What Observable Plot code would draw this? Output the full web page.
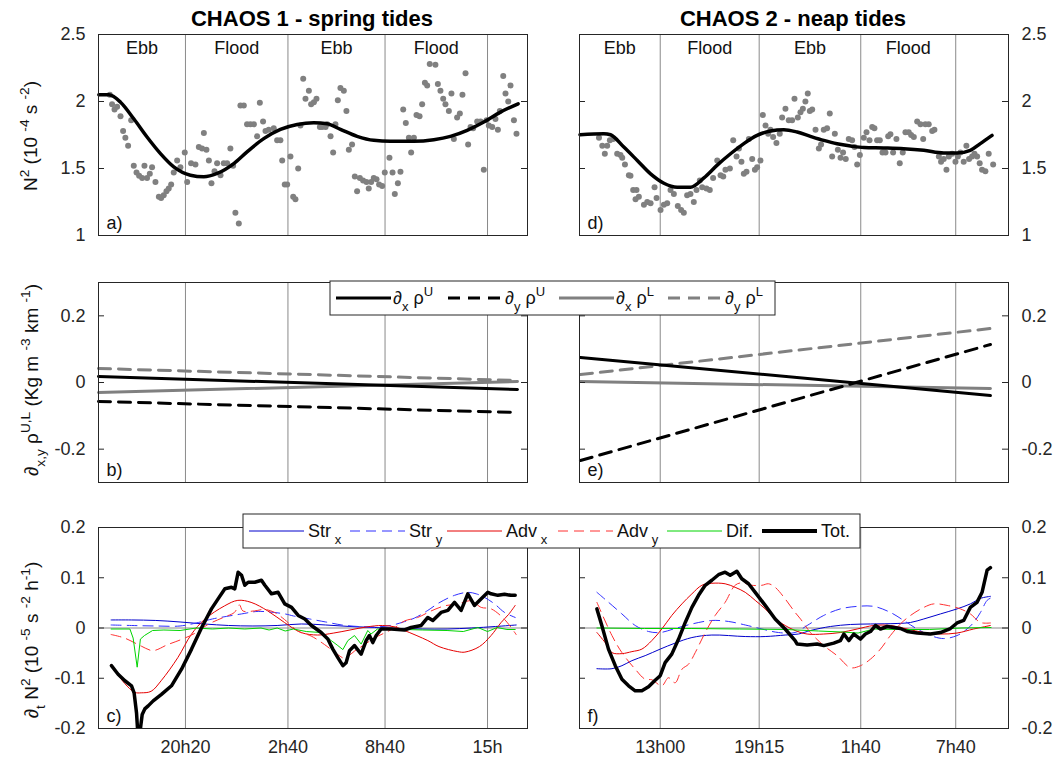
<!DOCTYPE html>
<html><head><meta charset="utf-8">
<script src="https://cdn.jsdelivr.net/npm/d3@7"></script>
<script src="https://cdn.jsdelivr.net/npm/@observablehq/plot@0.6"></script>
<style>
body{margin:0;background:#fff;}
#root{position:relative;width:1060px;height:759px;overflow:hidden;font-family:"Liberation Sans",Arial,Helvetica,sans-serif;}
#root svg{position:absolute;left:0;top:0;}
</style></head><body><div id="root"></div>
<script>
// ---------- time axes (hours since midnight of first day) ----------
const tideL = [20 + 20/60, 26 + 40/60, 32 + 40/60, 39];
const tideLabelsL = ["20h20", "2h40", "8h40", "15h"];
const tideR = [13, 19.25, 25 + 40/60, 31 + 40/60];
const tideLabelsR = ["13h00", "19h15", "1h40", "7h40"];
const phases = ["Ebb", "Flood", "Ebb", "Flood"];
const xDomL = [14.96, 41.47];
const xDomR = [7.9, 35.0];
const titles = ["CHAOS 1 - spring tides", "CHAOS 2 - neap tides"];

// ---------- panel a / d : N2 (1e-4 s-2) ----------
const n2PtsL = [[15.66,2.05],[15.80,1.98],[15.95,1.94],[16.11,1.96],[16.32,1.89],[16.48,1.78],[16.62,1.73],[16.79,1.67],[16.98,1.86],[17.14,1.52],[17.31,1.47],[17.47,1.445],[17.66,1.43],[17.80,1.52],[17.96,1.43],[18.13,1.46],[18.27,1.51],[18.48,1.40],[18.69,1.29],[18.83,1.28],[18.99,1.30],[19.16,1.33],[19.30,1.35],[19.45,1.38],[19.61,1.47],[19.82,1.56],[20.02,1.51],[20.29,1.62],[20.44,1.40],[20.68,1.54],[20.95,1.53],[21.16,1.66],[21.36,1.65],[21.47,1.765],[21.63,1.64],[21.78,1.56],[21.94,1.39],[22.13,1.48],[22.29,1.54],[22.50,1.45],[22.70,1.54],[22.91,1.54],[23.11,1.65],[23.28,1.52],[23.42,1.17],[23.63,1.09],[23.73,1.97],[23.94,1.97],[24.14,1.83],[24.35,1.83],[24.56,1.83],[24.76,1.74],[24.93,1.99],[25.13,1.85],[25.28,1.78],[25.48,1.79],[25.79,1.80],[26.0,1.71],[26.2,1.71],[26.31,1.56],[26.47,1.38],[26.62,1.38],[26.82,1.59],[26.99,1.29],[27.13,1.27],[27.30,1.50],[27.44,1.82],[27.61,2.17],[27.75,2.02],[27.96,2.08],[28.10,1.98],[28.27,1.995],[28.43,2.02],[28.64,1.81],[28.78,1.81],[28.99,1.81],[29.09,1.83],[29.30,1.74],[29.46,1.62],[29.60,1.83],[29.75,2.01],[29.91,2.10],[30.12,2.08],[30.28,1.93],[30.43,1.64],[30.63,1.68],[30.80,1.44],[30.94,1.33],[31.11,1.43],[31.31,1.41],[31.52,1.40],[31.66,1.35],[31.81,1.40],[31.97,1.43],[32.14,1.42],[32.30,1.38],[32.49,1.37],[32.65,1.47],[32.94,1.58],[33.13,1.47],[33.27,1.31],[33.46,1.39],[33.62,1.475],[33.79,1.94],[33.95,1.84],[34.14,1.73],[34.28,1.62],[34.45,1.73],[34.61,1.90],[34.80,1.89],[34.96,1.98],[35.13,2.14],[35.27,2.12],[35.43,2.28],[35.78,2.275],[35.93,2.13],[36.09,2.08],[36.26,2.02],[36.40,1.98],[36.61,1.93],[36.77,2.06],[36.92,1.72],[37.12,1.88],[37.29,1.91],[37.45,2.05],[37.64,2.21],[37.80,1.68],[37.95,1.81],[38.11,1.80],[38.36,1.85],[38.57,1.85],[38.77,1.49],[38.94,1.86],[39.08,1.82],[39.29,1.81],[39.49,1.87],[39.64,1.79],[39.76,1.93],[39.97,2.19],[40.11,2.06],[40.28,2.00],[40.42,2.12],[40.63,1.86],[40.79,1.76]];
const n2FitL = [[14.98,2.05],[15.6,2.05],[16.32,1.995],[17.14,1.871],[17.96,1.735],[18.79,1.611],[19.61,1.512],[20.64,1.45],[21.47,1.438],[22.29,1.463],[23.32,1.537],[24.14,1.624],[25.17,1.723],[26.2,1.792],[27.24,1.829],[28.26,1.842],[29.09,1.834],[29.91,1.792],[30.94,1.74],[31.97,1.71],[33.0,1.703],[34.45,1.703],[35.68,1.715],[36.71,1.74],[37.74,1.785],[38.77,1.847],[39.8,1.921],[40.89,1.983]];
const n2PtsR = [[9.13,1.73],[9.34,1.67],[9.50,1.61],[9.65,1.67],[9.82,1.71],[10.03,1.72],[10.28,1.61],[10.49,1.60],[10.60,1.58],[10.77,1.53],[11.02,1.45],[11.12,1.445],[11.29,1.34],[11.50,1.34],[11.44,1.27],[11.65,1.29],[11.97,1.23],[12.18,1.25],[12.39,1.24],[12.64,1.36],[12.77,1.28],[13.02,1.19],[13.23,1.23],[13.44,1.24],[13.65,1.34],[13.86,1.31],[14.11,1.22],[14.32,1.19],[14.49,1.17],[14.70,1.30],[14.91,1.31],[15.12,1.25],[15.29,1.34],[15.50,1.41],[15.65,1.36],[15.92,1.35],[16.13,1.34],[16.34,1.43],[16.60,1.56],[16.81,1.45],[16.98,1.44],[17.12,1.49],[17.40,1.50],[17.61,1.71],[17.82,1.59],[17.97,1.65],[18.13,1.55],[18.28,1.46],[18.45,1.475],[18.60,1.72],[18.81,1.57],[18.98,1.49],[19.12,1.51],[19.33,1.56],[19.48,1.90],[19.65,1.82],[19.82,1.76],[19.96,1.79],[20.13,1.735],[20.34,1.69],[20.55,1.76],[20.70,1.88],[20.91,1.945],[21.12,1.86],[21.33,1.86],[21.48,2.02],[21.69,1.88],[21.86,1.92],[22.01,1.945],[22.17,2.00],[22.32,2.06],[22.45,1.93],[22.60,1.94],[22.81,1.79],[23.02,1.65],[23.16,1.68],[23.33,1.79],[23.54,1.80],[23.71,1.91],[23.86,1.59],[24.03,1.76],[24.22,1.64],[24.39,1.58],[24.55,1.62],[24.72,1.57],[24.91,1.72],[25.12,1.71],[25.27,1.66],[25.44,1.53],[25.61,1.60],[25.86,1.73],[26.03,1.77],[26.22,1.71],[26.39,1.81],[26.53,1.80],[26.70,1.71],[26.87,1.71],[27.04,1.62],[27.23,1.62],[27.40,1.74],[27.54,1.755],[27.71,1.62],[27.92,1.72],[28.13,1.54],[28.32,1.62],[28.49,1.77],[28.70,1.77],[28.85,1.75],[29.02,1.735],[29.23,1.85],[29.44,1.83],[29.61,1.72],[29.75,1.83],[29.96,1.83],[30.18,1.78],[30.32,1.79],[30.60,1.59],[30.74,1.55],[30.91,1.57],[31.08,1.49],[31.23,1.59],[31.44,1.61],[31.65,1.55],[31.80,1.59],[31.96,1.62],[32.17,1.55],[32.34,1.67],[32.51,1.57],[32.70,1.59],[32.85,1.61],[33.02,1.59],[33.18,1.54],[33.33,1.49],[33.54,1.48],[33.75,1.61],[34.03,1.53]];
const n2FitR = [[7.93,1.752],[9.44,1.76],[9.86,1.752],[10.70,1.66],[11.55,1.56],[12.39,1.46],[13.23,1.39],[14.07,1.36],[14.91,1.36],[15.76,1.43],[16.60,1.525],[17.44,1.61],[18.28,1.686],[19.12,1.747],[19.96,1.78],[20.81,1.79],[21.65,1.772],[22.49,1.74],[23.33,1.71],[24.17,1.685],[25.02,1.668],[25.86,1.656],[27.12,1.653],[28.38,1.648],[29.65,1.636],[30.91,1.616],[31.75,1.616],[32.59,1.636],[33.22,1.686],[33.96,1.747]];
const n2Ticks = [1, 1.5, 2, 2.5];

// ---------- panel b / e : density gradients (kg m-3 km-1) ----------
const dxUL = [[14.96,0.018],[40.85,-0.021]];
const dyUL = [[14.96,-0.057],[40.85,-0.090]];
const dxLL = [[14.96,-0.030],[40.85,0.003]];
const dyLL = [[14.96,0.042],[40.85,0.006]];
const dxUR = [[7.96,0.075],[33.86,-0.039]];
const dyUR = [[7.96,-0.234],[33.86,0.114]];
const dxLR = [[7.96,0.003],[33.86,-0.018]];
const dyLR = [[7.96,0.024],[33.86,0.162]];
const gradTicks = [-0.2, 0, 0.2];

// ---------- panel c / f : dN2/dt terms (1e-5 s-2 h-1) ----------
const strxL = [[15.74,0.016],[17,0.016],[18.5,0.015],[20,0.012],[21.5,0.008],[23,0.005],[24.5,0.004],[26,0.005],[27.5,0.008],[29,0.006],[30.5,0.003],[32,0.001],[33.5,-0.001],[35,-0.002],[36.5,-0.002],[38,0],[39.5,0.003],[40.77,0.006]];
const stryL = [[15.74,0.006],[17,0.005],[18.5,0.004],[20,0.004],[21,0.01],[22,0.018],[22.5,0.021],[23.8,0.028],[24.83,0.033],[26.48,0.028],[27,0.024],[28,0.018],[29,0.012],[30,0.006],[31,0.003],[32,0.002],[33,0.005],[33.8,0.012],[34.5,0.02],[35.31,0.035],[36,0.05],[36.96,0.065],[37.78,0.071],[38.3,0.068],[38.81,0.061],[39.43,0.048],[40.05,0.031],[40.71,0.021]];
const advxL = [[15.74,-0.073],[16.57,-0.11],[17.2,-0.128],[17.6,-0.129],[18.21,-0.126],[18.83,-0.105],[19.86,-0.059],[20.69,-0.013],[21.51,0.017],[22.75,0.044],[23.57,0.055],[24.39,0.051],[25.42,0.034],[26.45,0.011],[27.48,-0.009],[28.5,-0.014],[29.5,-0.01],[30.5,-0.004],[31.5,0.002],[32.5,0.005],[33.3,0.002],[33.87,-0.005],[35.31,-0.025],[36,-0.037],[37.16,-0.047],[37.6,-0.048],[38.5,-0.037],[39.22,-0.015],[39.84,0.011],[40.3,0.027],[40.71,0.045]];
const advyL = [[15.74,-0.013],[16.57,-0.02],[17.6,-0.036],[18.32,-0.045],[19.24,-0.033],[20.07,-0.023],[20.89,-0.011],[21.72,0.007],[22.75,0.022],[23.36,0.031],[23.67,0.046],[23.88,0.034],[24.6,0.034],[25.22,0.037],[25.84,0.031],[26.45,0.017],[27.28,-0.006],[28.1,-0.016],[28.93,-0.033],[29.75,-0.053],[30.16,-0.06],[30.78,-0.046],[31.4,-0.033],[32.0,-0.02],[32.63,-0.01],[33.25,0],[33.87,0.014],[34.69,0.021],[35.52,0.034],[36.34,0.044],[37.17,0.048],[37.99,0.054],[38.61,0.041],[39.23,0.038],[40.05,0.017],[40.77,-0.013]];
const difL = [[15.74,-0.002],[16.9,-0.002],[17.1,-0.02],[17.35,-0.078],[17.55,-0.022],[17.8,-0.015],[18.3,-0.005],[19,-0.004],[20,-0.005],[21,0],[22,-0.002],[23,0],[24,-0.002],[25,0],[25.5,-0.004],[26,0],[26.5,-0.006],[27,-0.002],[27.8,-0.007],[28.7,-0.009],[29.34,-0.025],[29.75,-0.035],[30.06,-0.043],[30.37,-0.025],[30.78,-0.015],[31.19,-0.032],[31.6,-0.005],[31.8,-0.012],[32.2,-0.002],[33,-0.003],[34,-0.003],[35,-0.004],[36.5,-0.005],[37.5,-0.007],[38.4,0.001],[39,-0.007],[39.6,0.001],[40.2,-0.003],[40.71,-0.003]];
const totL = [[15.76,-0.075],[16.17,-0.092],[16.59,-0.105],[17.0,-0.115],[17.16,-0.129],[17.31,-0.169],[17.41,-0.22],[17.5,-0.22],[17.57,-0.195],[17.66,-0.172],[17.82,-0.161],[18.03,-0.155],[18.34,-0.145],[18.85,-0.132],[19.47,-0.115],[20.09,-0.082],[20.71,-0.042],[21.32,0],[21.94,0.038],[22.35,0.058],[22.77,0.078],[23.18,0.081],[23.38,0.078],[23.59,0.111],[23.8,0.105],[24.0,0.085],[24.21,0.091],[24.62,0.091],[25.03,0.095],[25.24,0.085],[25.65,0.068],[26.06,0.071],[26.47,0.048],[26.89,0.041],[27.3,0.025],[27.71,0.018],[28.12,0.005],[28.72,-0.009],[29.13,-0.022],[29.44,-0.042],[29.75,-0.059],[30.06,-0.075],[30.26,-0.069],[30.47,-0.045],[30.78,-0.035],[31.19,-0.052],[31.5,-0.025],[31.7,-0.015],[31.91,-0.029],[32.12,-0.015],[32.43,-0.002],[33.04,-0.002],[33.87,-0.004],[34.28,0.001],[34.9,0.005],[35.31,0.021],[35.62,0.015],[36.13,0.031],[36.55,0.035],[36.96,0.051],[37.37,0.035],[37.78,0.068],[38.19,0.045],[38.61,0.058],[39.02,0.071],[39.22,0.068],[39.64,0.065],[40.05,0.067],[40.46,0.065],[40.71,0.065]];

const strxR = [[9.0,-0.081],[9.95,-0.081],[10.58,-0.075],[11.21,-0.065],[12.05,-0.055],[13.0,-0.042],[13.94,-0.03],[15.0,-0.019],[16.26,-0.014],[18.37,-0.017],[19.63,-0.017],[20.89,-0.014],[21.73,-0.012],[22.49,-0.005],[23.75,0.003],[25.02,0.007],[26.28,0.008],[27.96,0.009],[28.81,0.011],[29.65,0.018],[30.7,0.028],[31.75,0.038],[32.59,0.048],[33.23,0.059],[33.86,0.063]];
const stryR = [[9.0,0.071],[9.74,0.051],[10.58,0.028],[11.42,0.005],[12.26,-0.007],[13.0,-0.009],[13.94,-0.001],[15.0,0.008],[16.26,0.015],[17.31,0.013],[18.37,0.006],[19.42,-0.002],[20.47,-0.009],[21.52,-0.009],[22.28,0.005],[23.33,0.025],[24.38,0.038],[25.44,0.043],[26.49,0.043],[27.54,0.031],[28.38,0.015],[29.23,-0.002],[30.07,-0.015],[30.91,-0.021],[31.75,-0.015],[32.38,-0.002],[32.8,0.011],[33.23,0.031],[33.65,0.055],[33.96,0.061]];
const advxR = [[9.0,-0.009],[9.52,-0.029],[9.95,-0.049],[10.58,-0.051],[11.21,-0.047],[11.84,-0.042],[12.47,-0.025],[13.1,-0.002],[13.73,0.025],[14.37,0.048],[15.0,0.068],[15.63,0.085],[16.26,0.089],[17.1,0.088],[17.73,0.081],[18.37,0.071],[19.0,0.055],[19.63,0.038],[20.26,0.018],[20.89,0.005],[21.52,-0.005],[22.28,-0.012],[23.33,-0.012],[24.38,-0.009],[25.44,-0.002],[26.49,0.005],[27.54,0.005],[28.6,-0.002],[29.65,-0.009],[30.7,-0.012],[31.75,-0.01],[32.8,-0.002],[33.86,0.005]];
const advyR = [[9.0,0.051],[9.95,-0.015],[10.58,-0.049],[11.42,-0.082],[12.05,-0.102],[12.47,-0.103],[13.1,-0.115],[13.52,-0.099],[13.94,-0.109],[14.37,-0.082],[14.79,-0.072],[15.21,-0.049],[15.84,-0.009],[16.47,0.025],[17.1,0.051],[17.73,0.085],[18.15,0.09],[18.79,0.085],[19.42,0.085],[19.84,0.088],[20.26,0.081],[20.89,0.058],[21.52,0.031],[21.86,0.018],[22.49,-0.009],[23.33,-0.035],[24.17,-0.055],[25.02,-0.079],[25.65,-0.075],[26.28,-0.062],[26.91,-0.042],[27.54,-0.015],[28.17,0.008],[28.81,0.025],[29.65,0.041],[30.28,0.048],[31.12,0.045],[31.96,0.038],[32.59,0.028],[33.23,0.011],[33.86,0.01]];
const difR = [[9.0,0],[12,-0.001],[15,-0.001],[18,-0.002],[21,-0.003],[23,-0.006],[24.5,-0.008],[25.5,-0.01],[26.5,-0.002],[28,-0.003],[30,-0.003],[32,0],[33.9,0.001]];
const totR = [[9.0,0.038],[9.31,0.005],[9.73,-0.042],[10.16,-0.075],[10.58,-0.102],[11.0,-0.115],[11.42,-0.125],[11.84,-0.125],[12.26,-0.117],[12.68,-0.104],[13.0,-0.095],[13.31,-0.069],[13.73,-0.052],[14.16,-0.022],[14.58,0.011],[15.0,0.041],[15.42,0.065],[15.84,0.085],[16.26,0.095],[16.68,0.106],[17.1,0.111],[17.42,0.105],[17.84,0.113],[18.15,0.098],[18.58,0.088],[19.0,0.071],[19.63,0.045],[20.26,0.018],[20.89,-0.002],[21.52,-0.025],[21.65,-0.032],[22.28,-0.034],[22.91,-0.032],[23.33,-0.035],[23.96,-0.03],[24.38,-0.025],[24.6,-0.012],[24.91,-0.025],[25.23,-0.012],[25.65,-0.022],[25.96,-0.012],[26.28,-0.007],[26.6,0.005],[26.91,-0.002],[27.33,0.003],[27.75,0.001],[28.17,-0.001],[28.6,-0.007],[29.23,-0.01],[30.07,-0.012],[30.7,-0.009],[31.33,-0.001],[31.75,0.01],[32.17,0.015],[32.59,0.041],[33.01,0.051],[33.33,0.071],[33.65,0.115],[33.86,0.12]];
const rateTicks = [-0.2, -0.1, 0, 0.1, 0.2];

// ---------- rendering ----------
const W = 1060, H = 759;
const FONT = '"Liberation Sans", Arial, Helvetica, sans-serif';
const INK = "#262626";
const GRID = "#8a8a8a";
const root = document.getElementById("root");
const X = d => d[0], Y = d => d[1];

function panel(o) {
  const fw = o.right - o.left;
  const labelMap = new Map(o.tide.map((t, i) => [t, o.tideLabels[i]]));
  const bounds = [o.xDom[0], ...o.tide];
  const phaseData = phases.map((p, i) => ({p, x: (bounds[i] + bounds[i + 1]) / 2}));
  const marks = [
    Plot.ruleX(o.tide, {x: d => d, stroke: GRID, strokeWidth: 1}),
    o.zero ? Plot.ruleY([0], {y: d => d, stroke: GRID, strokeWidth: 1}) : null,
    ...o.marks,
    Plot.frame({stroke: INK, strokeWidth: 1}),
    Plot.ruleY(o.yTicks, {y: d => d, stroke: INK, insetRight: fw - 6}),
    Plot.ruleY(o.yTicks, {y: d => d, stroke: INK, insetLeft: fw - 6}),
    Plot.axisY(o.yTicks, {anchor: o.side, tickSize: 0, tickPadding: 13, tickFormat: d => String(d), fontSize: 18, fill: INK, label: null}),
    o.phases ? Plot.text(phaseData, {x: "x", text: "p", frameAnchor: "top", lineAnchor: "middle", dy: 14, fontSize: 18, fill: "#111"}) : null,
    Plot.text([o.letter], {text: d => d, frameAnchor: "bottom-left", lineAnchor: "middle", dx: 8, dy: -12, textAnchor: "start", fontSize: 18, fill: "#111"}),
    o.xLabels ? Plot.axisX(o.tide, {anchor: "bottom", tickSize: 0, tickPadding: 12, tickFormat: d => labelMap.get(d), fontSize: 18, fill: INK, label: null}) : null
  ].filter(Boolean);
  const svg = Plot.plot({
    width: W, height: H,
    marginLeft: o.left, marginRight: W - o.right, marginTop: o.top, marginBottom: H - o.bottom,
    x: {domain: o.xDom, axis: null},
    y: {domain: o.yDom, axis: null},
    style: {background: "transparent", fontFamily: FONT, fontSize: "18px", color: INK, overflow: "visible"},
    marks
  });
  root.appendChild(svg);
}

const colL = {left: 98, right: 527, xDom: xDomL, tide: tideL, tideLabels: tideLabelsL, side: "left"};
const colR = {left: 579, right: 1008, xDom: xDomR, tide: tideR, tideLabels: tideLabelsR, side: "right"};
const rowA = {top: 34, bottom: 235, yDom: [1, 2.5], yTicks: n2Ticks, phases: true};
const rowB = {top: 282, bottom: 482, yDom: [-0.3, 0.3], yTicks: gradTicks};
const rowC = {top: 527, bottom: 728, yDom: [-0.2, 0.2], yTicks: rateTicks, zero: true, xLabels: true};

function n2Marks(pts, fit) {
  return [
    Plot.dot(pts, {x: X, y: Y, r: 3, fill: "#808080", stroke: "none"}),
    Plot.line(fit, {x: X, y: Y, stroke: "#000", strokeWidth: 3.5, curve: "monotone-x"})
  ];
}
function gradMarks(dxU, dyU, dxL, dyL) {
  return [
    Plot.line(dyL, {x: X, y: Y, stroke: "#808080", strokeWidth: 3, strokeDasharray: "12,8"}),
    Plot.line(dxL, {x: X, y: Y, stroke: "#808080", strokeWidth: 3}),
    Plot.line(dyU, {x: X, y: Y, stroke: "#000", strokeWidth: 3, strokeDasharray: "12,8"}),
    Plot.line(dxU, {x: X, y: Y, stroke: "#000", strokeWidth: 3})
  ];
}
const COL = {strx: "#0000cc", stry: "#2f2fff", advx: "#e60000", advy: "#ff3030", dif: "#00d400", tot: "#000"};
function rateMarks(strx, stry, advx, advy, dif, tot) {
  const c = "catmull-rom";
  return [
    Plot.line(strx, {x: X, y: Y, stroke: COL.strx, strokeWidth: 1, curve: c, clip: true}),
    Plot.line(stry, {x: X, y: Y, stroke: COL.stry, strokeWidth: 1, strokeDasharray: "10,6", curve: c, clip: true}),
    Plot.line(advx, {x: X, y: Y, stroke: COL.advx, strokeWidth: 1, curve: c, clip: true}),
    Plot.line(advy, {x: X, y: Y, stroke: COL.advy, strokeWidth: 1, strokeDasharray: "10,6", curve: c, clip: true}),
    Plot.line(dif, {x: X, y: Y, stroke: COL.dif, strokeWidth: 1, clip: true}),
    Plot.line(tot, {x: X, y: Y, stroke: COL.tot, strokeWidth: 3.5, clip: true})
  ];
}

panel({...colL, ...rowA, letter: "a)", marks: n2Marks(n2PtsL, n2FitL)});
panel({...colR, ...rowA, letter: "d)", marks: n2Marks(n2PtsR, n2FitR)});
panel({...colL, ...rowB, letter: "b)", marks: gradMarks(dxUL, dyUL, dxLL, dyLL)});
panel({...colR, ...rowB, letter: "e)", marks: gradMarks(dxUR, dyUR, dxLR, dyLR)});
panel({...colL, ...rowC, letter: "c)", marks: rateMarks(strxL, stryL, advxL, advyL, difL, totL)});
panel({...colR, ...rowC, letter: "f)", marks: rateMarks(strxR, stryR, advxR, advyR, difR, totR)});

// ---------- overlay: titles, axis titles, legends ----------
const NS = "http://www.w3.org/2000/svg";
const ov = document.createElementNS(NS, "svg");
ov.setAttribute("width", W); ov.setAttribute("height", H);
ov.setAttribute("font-family", FONT);
ov.style.whiteSpace = "pre";
root.appendChild(ov);
function el(tag, attrs, parent = ov) {
  const e = document.createElementNS(NS, tag);
  for (const k in attrs) e.setAttribute(k, attrs[k]);
  parent.appendChild(e);
  return e;
}
function rich(x, y, parts, size, opts = {}) {
  const t = el("text", {x: 0, y: 0, "font-size": size, fill: opts.fill || "#111", "text-anchor": opts.anchor || "start",
    transform: `translate(${x},${y})` + (opts.rotate ? ` rotate(${opts.rotate})` : "")});
  let cur = 0;
  for (const [s, lvl] of parts) {
    const target = lvl === 1 ? -0.42 * size : lvl === -1 ? 0.38 * size : 0;
    const ts = el("tspan", {dy: (target - cur).toFixed(2)}, t);
    cur = target;
    if (lvl) ts.setAttribute("font-size", (size * 0.72).toFixed(1));
    ts.textContent = s;
  }
  return t;
}

// titles
el("text", {x: 312, y: 26, "text-anchor": "middle", "font-size": 22, "font-weight": "bold", fill: "#000"}).textContent = titles[0];
el("text", {x: 793, y: 26, "text-anchor": "middle", "font-size": 22, "font-weight": "bold", fill: "#000"}).textContent = titles[1];

// y-axis titles
rich(37, 136, [["N", 0], ["2", 1], [" (10 ", 0], ["-4", 1], [" s ", 0], ["-2", 1], [")", 0]], 19, {anchor: "middle", rotate: -90});
rich(38, 380, [["\u2202", 0], ["x,y", -1], [" \u03C1", 0], ["U,L", 1], [" (Kg m ", 0], ["-3", 1], [" km ", 0], ["-1", 1], [")", 0]], 19, {anchor: "middle", rotate: -90});
rich(38, 640, [["\u2202", 0], ["t", -1], [" N", 0], ["2", 1], [" (10 ", 0], ["-5", 1], [" s ", 0], ["-2", 1], [" h", 0], ["-1", 1], [")", 0]], 19, {anchor: "middle", rotate: -90});

// legend b
el("rect", {x: 330, y: 281, width: 445, height: 34, fill: "#fff", stroke: INK, "stroke-width": 1});
const legB = [
  {x: 336, stroke: "#000", dash: null, sub: "x", sup: "U"},
  {x: 448, stroke: "#000", dash: "12,8", sub: "y", sup: "U"},
  {x: 559, stroke: "#808080", dash: null, sub: "x", sup: "L"},
  {x: 668, stroke: "#808080", dash: "12,8", sub: "y", sup: "L"}
];
for (const it of legB) {
  const l = el("line", {x1: it.x, x2: it.x + 55, y1: 298, y2: 298, stroke: it.stroke, "stroke-width": 3});
  if (it.dash) l.setAttribute("stroke-dasharray", it.dash);
  rich(it.x + 57, 304, [["\u2202", 0], [it.sub, -1], [" \u03C1", 0], [it.sup, 1]], 18);
}

// legend c
el("rect", {x: 243, y: 514, width: 617, height: 34, fill: "#fff", stroke: INK, "stroke-width": 1});
const legC = [
  {x: 249, stroke: COL.strx, dash: null, w: 1, parts: [["Str", 0], [" x", -1]]},
  {x: 350, stroke: COL.stry, dash: "10,6", w: 1, parts: [["Str", 0], [" y", -1]]},
  {x: 447, stroke: COL.advx, dash: null, w: 1, parts: [["Adv", 0], [" x", -1]]},
  {x: 558, stroke: COL.advy, dash: "10,6", w: 1, parts: [["Adv", 0], [" y", -1]]},
  {x: 667, stroke: COL.dif, dash: null, w: 1, parts: [["Dif.", 0]]},
  {x: 762, stroke: COL.tot, dash: null, w: 4, parts: [["Tot.", 0]]}
];
for (const it of legC) {
  const l = el("line", {x1: it.x, x2: it.x + 55, y1: 531, y2: 531, stroke: it.stroke, "stroke-width": it.w});
  if (it.dash) l.setAttribute("stroke-dasharray", it.dash);
  rich(it.x + 59, 537, it.parts, 18);
}
</script></body></html>
